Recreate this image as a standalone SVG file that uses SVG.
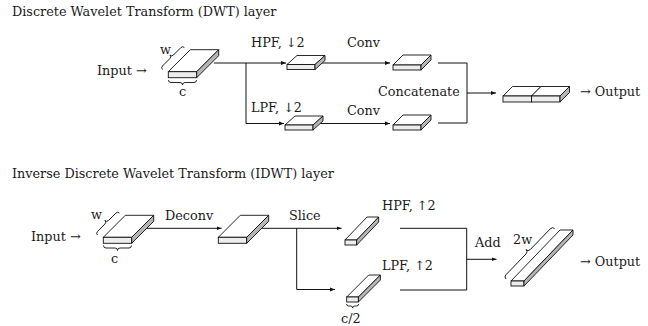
<svg xmlns="http://www.w3.org/2000/svg" width="648" height="326" viewBox="0 0 648 326">
<defs>
<style>
text{font-family:"DejaVu Serif","Liberation Serif",serif;font-size:12.8px;fill:#1a1a1a}
.ln{fill:none;stroke:#111;stroke-width:1}
.br{fill:none;stroke:#111;stroke-width:0.9}
.top{fill:#fff;stroke:#111;stroke-width:0.9;stroke-linejoin:round}
.front{fill:#ededed;stroke:#111;stroke-width:0.9}
.side{fill:#b5b5b5;stroke:#111;stroke-width:0.9;stroke-linejoin:round}
</style>
<marker id="ah" viewBox="0 0 6 6" refX="6" refY="3" markerWidth="5" markerHeight="5" orient="auto" markerUnits="userSpaceOnUse"><path d="M0,0.6 L6,3 L0,5.4 z" fill="#111"/></marker>
</defs>
<rect width="648" height="326" fill="#fff"/>

<text x="12" y="16">Discrete Wavelet Transform (DWT) layer</text>
<text x="12" y="178">Inverse Discrete Wavelet Transform (IDWT) layer</text>

<g id="connectors">
<path class="ln" d="M214,63 H246 V123.5"/>
<path class="ln" d="M246,63 H286" marker-end="url(#ah)"/>
<path class="ln" d="M246,123.5 H284" marker-end="url(#ah)"/>
<path class="ln" d="M321,63 H390" marker-end="url(#ah)"/>
<path class="ln" d="M320,123.5 H390" marker-end="url(#ah)"/>
<path class="ln" d="M438,63 H467 V123 H438"/>
<path class="ln" d="M467,93 H496" marker-end="url(#ah)"/>

<path class="ln" d="M147,228.3 H221.5" marker-end="url(#ah)"/>
<path class="ln" d="M262,228.3 H341.5" marker-end="url(#ah)"/>
<path class="ln" d="M296.7,228.3 V289.5 H335" marker-end="url(#ah)"/>
<path class="ln" d="M400,228.3 H466.7 V290 H400"/>
<path class="ln" d="M466.7,259.3 H496.5" marker-end="url(#ah)"/>
</g>

<g id="dwt-input">
<text x="97" y="75">Input →</text>
<polygon class="top" points="168.3,71.7 196.7,71.7 218.7,49.7 190.3,49.7"/>
<rect class="front" x="168.3" y="71.7" width="28.4" height="6"/>
<polygon class="side" points="196.7,71.7 218.7,49.7 218.7,55.7 196.7,77.7"/>
<path class="br" transform="translate(162.5,69.5) rotate(-45)" d="M0,0 q0,-2.5 2.5,-2.5 h10.5 q2.5,0 2.5,-2.5 q0,2.5 2.5,2.5 h10.5 q2.5,0 2.5,2.5"/>
<text x="160" y="54">w</text>
<path class="br" d="M168.5,80 q0,2.5 2.5,2.5 h9 q2.5,0 2.5,2.5 q0,-2.5 2.5,-2.5 h9 q2.5,0 2.5,-2.5"/>
<text x="179" y="96">c</text>
</g>

<g id="dwt-hpf">
<text x="251" y="47">HPF, ↓2</text>
<polygon class="top" points="287,64.5 315,64.5 325,55.5 297,55.5"/>
<rect class="front" x="287" y="64.5" width="28" height="5"/>
<polygon class="side" points="315,64.5 325,55.5 325,60.5 315,69.5"/>
</g>

<g id="dwt-lpf">
<text x="251" y="112">LPF, ↓2</text>
<polygon class="top" points="285,125 313,125 323,116 295,116"/>
<rect class="front" x="285" y="125" width="28" height="5"/>
<polygon class="side" points="313,125 323,116 323,121 313,130"/>
</g>

<g id="dwt-conv-hi">
<text x="347" y="47">Conv</text>
<polygon class="top" points="393,65 421,65 431,55 403,55"/>
<rect class="front" x="393" y="65" width="28" height="5"/>
<polygon class="side" points="421,65 431,55 431,60 421,70"/>
</g>

<g id="dwt-conv-lo">
<text x="347" y="115">Conv</text>
<polygon class="top" points="393,125 421,125 431,115 403,115"/>
<rect class="front" x="393" y="125" width="28" height="5"/>
<polygon class="side" points="421,125 431,115 431,120 421,130"/>
</g>

<g id="dwt-concat">
<text x="378" y="96">Concatenate</text>
</g>

<g id="dwt-output">
<polygon class="top" points="503,96 531.5,96 541,86.5 512.5,86.5"/>
<rect class="front" x="503" y="96" width="28.5" height="6"/>
<polygon class="top" points="531.5,96 560,96 569.5,86.5 541,86.5"/>
<rect class="front" x="531.5" y="96" width="28.5" height="6"/>
<polygon class="side" points="560,96 569.5,86.5 569.5,92.5 560,102"/>
<text x="580" y="96">→ Output</text>
</g>

<g id="idwt-input">
<text x="31" y="241">Input →</text>
<polygon class="top" points="103.3,237.3 131.7,237.3 153.7,215.3 125.3,215.3"/>
<rect class="front" x="103.3" y="237.3" width="28.4" height="6"/>
<polygon class="side" points="131.7,237.3 153.7,215.3 153.7,221.3 131.7,243.3"/>
<path class="br" transform="translate(97.5,235) rotate(-45)" d="M0,0 q0,-2.5 2.5,-2.5 h10.5 q2.5,0 2.5,-2.5 q0,2.5 2.5,2.5 h10.5 q2.5,0 2.5,2.5"/>
<text x="91" y="219">w</text>
<path class="br" d="M103.5,245.5 q0,2.5 2.5,2.5 h9 q2.5,0 2.5,2.5 q0,-2.5 2.5,-2.5 h9 q2.5,0 2.5,-2.5"/>
<text x="111" y="263">c</text>
</g>

<g id="idwt-deconv">
<text x="165" y="220">Deconv</text>
<polygon class="top" points="218.3,237.3 246.7,237.3 268.7,215.3 240.3,215.3"/>
<rect class="front" x="218.3" y="237.3" width="28.4" height="6"/>
<polygon class="side" points="246.7,237.3 268.7,215.3 268.7,221.3 246.7,243.3"/>
</g>

<g id="idwt-slice">
<text x="289" y="220">Slice</text>
</g>

<g id="idwt-hpf">
<text x="382" y="210">HPF, ↑2</text>
<polygon class="top" points="345,240 356.7,240 378.7,217 367,217"/>
<rect class="front" x="345" y="240" width="11.7" height="5"/>
<polygon class="side" points="356.7,240 378.7,217 378.7,222 356.7,245"/>
</g>

<g id="idwt-lpf">
<text x="382" y="270">LPF, ↑2</text>
<polygon class="top" points="346.7,297 358.4,297 380.4,275 368.7,275"/>
<rect class="front" x="346.7" y="297" width="11.7" height="5"/>
<polygon class="side" points="358.4,297 380.4,275 380.4,280 358.4,302"/>
<path class="br" d="M346.6,304 q0,2 2,2 h2 q2,0 2,2 q0,-2 2,-2 h2 q2,0 2,-2"/>
<text x="341" y="323">c/2</text>
</g>

<g id="idwt-add">
<text x="475" y="247">Add</text>
</g>

<g id="idwt-output">
<polygon class="top" points="511,281 524,281 573,230 560,230"/>
<rect class="front" x="511" y="281" width="13" height="5"/>
<polygon class="side" points="524,281 573,230 573,235 524,286"/>
<path class="br" transform="translate(506,279) rotate(-46)" d="M0,0 q0,-3 3,-3 h29 q3,0 3,-3 q0,3 3,3 h29 q3,0 3,3"/>
<text x="513" y="244">2w</text>
<text x="580" y="266">→ Output</text>
</g>
</svg>
